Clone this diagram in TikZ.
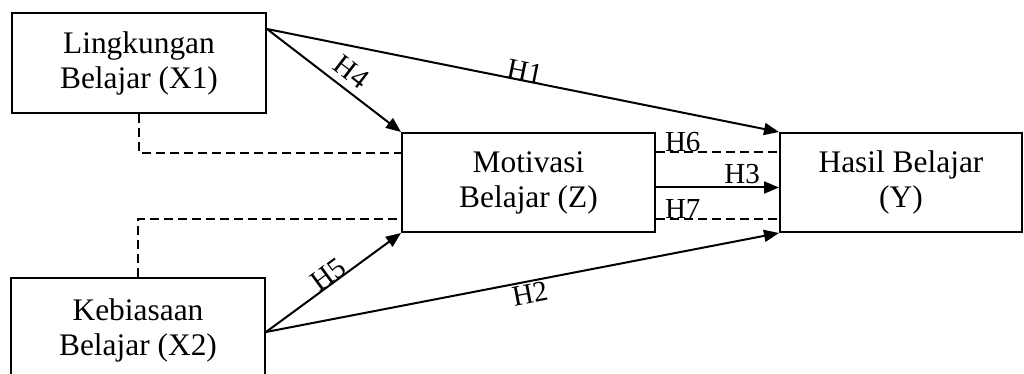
\documentclass[tikz,border=0pt]{standalone}
\usepackage{fontspec}
\setmainfont{Liberation Serif}
\usetikzlibrary{arrows.meta}

\begin{document}
\begin{tikzpicture}[x=0.5pt,y=-0.5pt,
    kotak/.style={draw, line width=1pt, align=center, inner sep=0pt,
        font=\fontsize{15.7}{17.5}\selectfont},
    panah/.style={line width=1pt, -{Triangle[length=7.5pt,width=6pt]}},
    putus/.style={line width=1pt, dash pattern=on 4.5pt off 2.5pt},
    lbl/.style={font=\fontsize{14.5}{16}\selectfont, inner sep=1pt}]

    \useasboundingbox (0,0) rectangle (1024,374);

    % variabel
    \node[kotak, minimum width=127pt, minimum height=50pt] (x1) at (139,63) {Lingkungan\\Belajar (X1)};
    \node[kotak, minimum width=127pt, minimum height=52pt] (x2) at (138,330) {Kebiasaan\\Belajar (X2)};
    \node[kotak, minimum width=126.5pt, minimum height=49.5pt] (z) at (528.5,182.5) {Motivasi\\Belajar (Z)};
    \node[kotak, minimum width=121pt, minimum height=49.5pt] (y) at (901,182.5) {Hasil Belajar\\(Y)};

    % pengaruh langsung
    \draw[panah] ([yshift=-8.5pt]x1.north east) -- node[lbl, sloped, anchor=base, pos=0.5] {H1} (y.north west);
    \draw[panah] ([yshift=-8.5pt]x1.north east) -- node[lbl, sloped, above=2.5pt, pos=0.55] {H4} (z.north west);
    \draw[panah] ([yshift=-27.5pt]x2.north east) -- node[lbl, sloped, anchor=base, pos=0.5] {H5} (z.south west);
    \draw[panah] ([yshift=-27.5pt]x2.north east) -- node[lbl, sloped, below, pos=0.51] {H2} (y.south west);
    \draw[panah] ([yshift=-2.5pt]z.east) -- node[lbl, anchor=base, pos=0.7, yshift=2pt] {H3} ([yshift=-2.5pt]y.west);

    % pengaruh tidak langsung (mediasi)
    \draw[putus] (x1.south) |- ([yshift=-10.5pt]z.north west);
    \draw[putus] (x2.north) |- ([yshift=7pt]z.south west);
    \draw[putus] ([yshift=-10pt]z.north east) -- node[lbl, anchor=base west, pos=0, xshift=3pt] {H6} ([yshift=-10pt]y.north west);
    \draw[putus] ([yshift=7pt]z.south east) -- node[lbl, anchor=base west, pos=0, xshift=3pt] {H7} ([yshift=7pt]y.south west);

\end{tikzpicture}
\end{document}
